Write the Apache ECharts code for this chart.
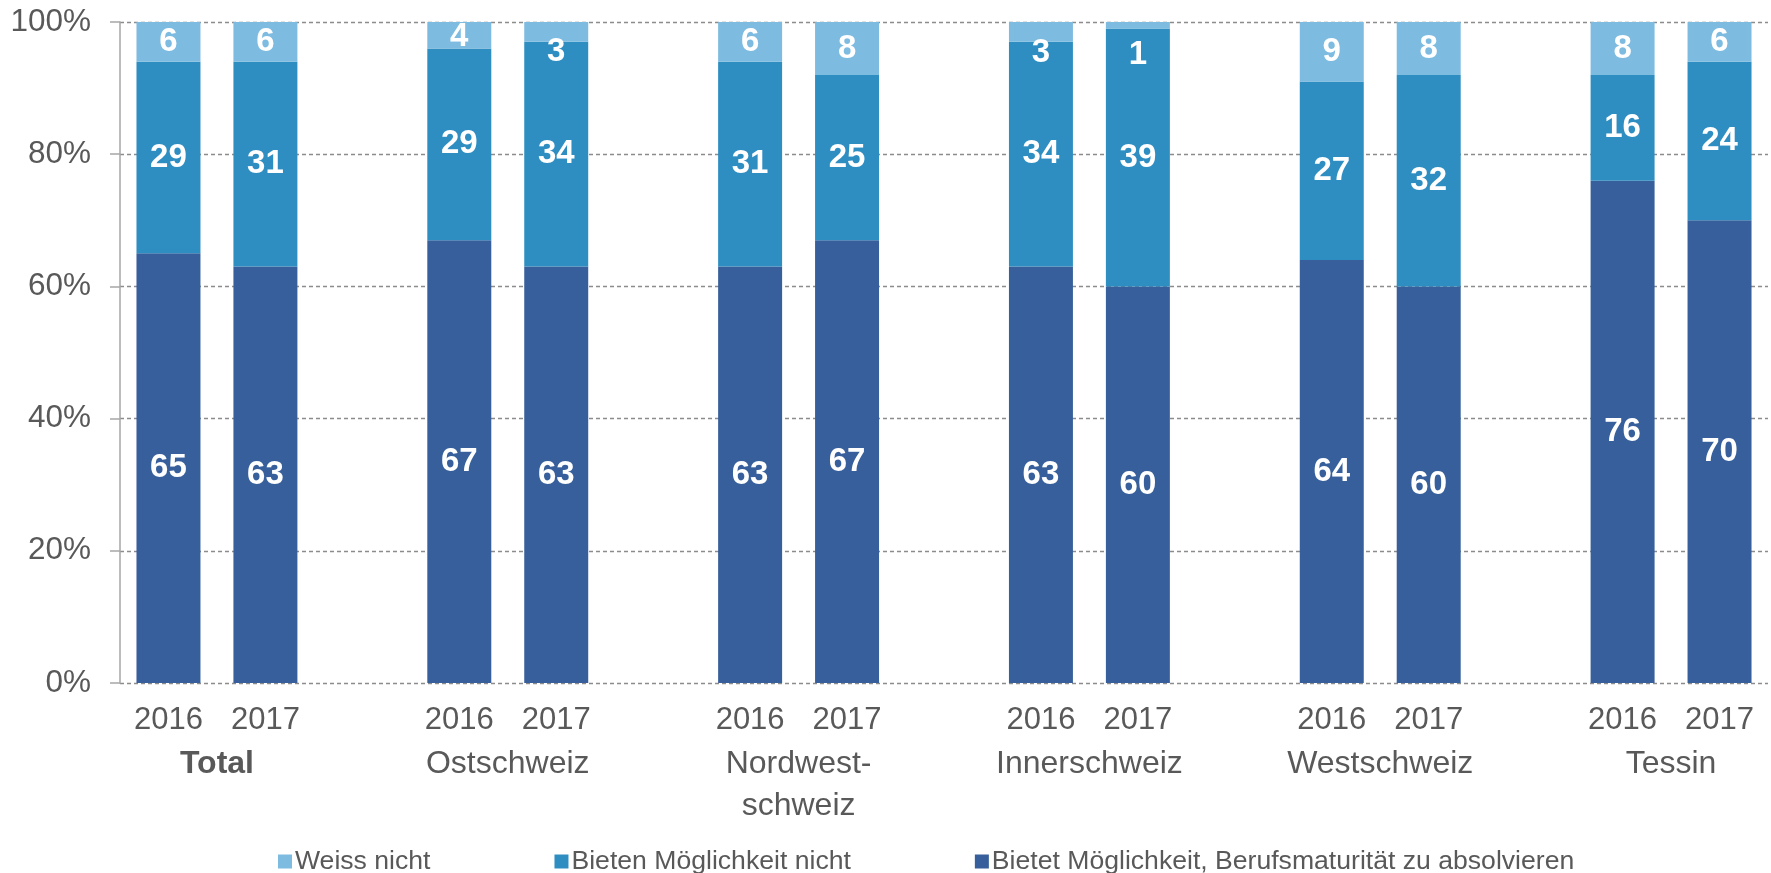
<!DOCTYPE html>
<html>
<head>
<meta charset="utf-8">
<script src="https://cdn.jsdelivr.net/npm/echarts@6/dist/echarts.min.js"></script>
<style>
html,body{margin:0;padding:0;background:#fff;}
#chart{width:1771px;height:873px;}
</style>
</head>
<body>
<div id="chart"></div>
<script>
// ---- Data ----
const groups = ['Total', 'Ostschweiz', 'Nordwest-\nschweiz', 'Innerschweiz', 'Westschweiz', 'Tessin'];
const years = ['2016', '2017'];
const yTicks = [0, 20, 40, 60, 80, 100];
const seriesNames = ['Weiss nicht', 'Bieten Möglichkeit nicht', 'Bietet Möglichkeit, Berufsmaturität zu absolvieren'];
// order per bar: Total 2016, Total 2017, Ost 2016, Ost 2017, ...
const berufsmat = [65, 63, 67, 63, 63, 67, 63, 60, 64, 60, 76, 70];
const nichtBieten = [29, 31, 29, 34, 31, 25, 34, 39, 27, 32, 16, 24];
const weissNicht = [6, 6, 4, 3, 6, 8, 3, 1, 9, 8, 8, 6];

// ---- label nudges for tiny segments (style only) ----
const weissLabelShift = {2: 2, 3: 20, 6: 21, 7: 30};

// ---- build category axis with spacer slots ----
const categories = [];
const barSlot = []; // category index of each bar
groups.forEach((g, gi) => {
  years.forEach((y) => {
    barSlot.push(categories.length);
    categories.push(gi + '|' + y);
  });
  if (gi < groups.length - 1) categories.push('gap' + gi + '|');
});
function spread(values, shift) {
  const arr = categories.map(() => '-');
  values.forEach((v, i) => {
    if (shift && shift[i] !== undefined) {
      arr[barSlot[i]] = {value: v, label: {offset: [0, shift[i]]}};
    } else {
      arr[barSlot[i]] = v;
    }
  });
  return arr;
}
// group label positions on a value axis (centre between the two bars)
const groupCenters = {};
groups.forEach((g, gi) => { groupCenters[barSlot[gi * 2] + 1] = gi; });

const colors = {
  dark: '#365F9B',
  mid: '#2E8EC2',
  light: '#7EBBE0'
};
const font = 'Liberation Sans, Arial, sans-serif';
const textColor = '#595959';

const labelStyle = {
  show: true,
  position: 'inside',
  color: '#ffffff',
  fontWeight: 'bold',
  fontSize: 33,
  fontFamily: font
};

const chart = echarts.init(document.getElementById('chart'), null, {renderer: 'canvas'});
chart.setOption({
  animation: false,
  backgroundColor: '#ffffff',
  textStyle: {fontFamily: font},
  grid: {left: 120, right: 3, top: 22, bottom: 190, containLabel: false},
  legend: {
    data: seriesNames,
    left: 273,
    top: 843,
    itemWidth: 14,
    itemHeight: 14,
    itemGap: 124,
    icon: 'rect',
    textStyle: {color: textColor, fontSize: 26.6, fontFamily: font, padding: [0, 0, 0, -2]}
  },
  xAxis: [
    {
      type: 'category',
      data: categories,
      axisLine: {show: false},
      axisTick: {show: false},
      axisLabel: {
        color: textColor,
        fontSize: 31,
        fontFamily: font,
        margin: 22,
        interval: 0,
        formatter: (v) => v.split('|')[1]
      }
    },
    {
      type: 'value',
      position: 'bottom',
      min: 0,
      max: categories.length,
      interval: 1,
      axisLine: {show: false},
      axisTick: {show: false},
      splitLine: {show: false},
      axisLabel: {
        margin: 60,
        showMinLabel: true,
        showMaxLabel: true,
        formatter: (v) => {
          const gi = groupCenters[v];
          if (gi === undefined) return '';
          return gi === 0 ? '{b|' + groups[gi] + '}' : '{n|' + groups[gi].split('\n').join('}\n{n|') + '}';
        },
        rich: {
          b: {fontSize: 32, fontWeight: 'bold', color: textColor, fontFamily: font, lineHeight: 42},
          n: {fontSize: 32, color: textColor, fontFamily: font, lineHeight: 42}
        }
      }
    }
  ],
  yAxis: {
    type: 'value',
    min: yTicks[0],
    max: yTicks[yTicks.length - 1],
    interval: yTicks[1] - yTicks[0],
    axisLine: {show: true, lineStyle: {color: '#A6A6A6', width: 1.5}},
    axisTick: {show: true, length: 10, lineStyle: {color: '#A6A6A6', width: 1.5}},
    splitLine: {show: true, lineStyle: {color: '#8C8C8C', type: [4, 3], width: 1.3}},
    axisLabel: {
      color: textColor,
      fontSize: 31.5,
      fontFamily: font,
      margin: 29,
      formatter: '{value}%'
    }
  },
  series: [
    {
      name: seriesNames[2],
      type: 'bar',
      stack: 'total',
      xAxisIndex: 0,
      barWidth: '66%',
      itemStyle: {color: colors.dark},
      label: labelStyle,
      data: spread(berufsmat)
    },
    {
      name: seriesNames[1],
      type: 'bar',
      stack: 'total',
      xAxisIndex: 0,
      barWidth: '66%',
      itemStyle: {color: colors.mid},
      label: labelStyle,
      data: spread(nichtBieten)
    },
    {
      name: seriesNames[0],
      type: 'bar',
      stack: 'total',
      xAxisIndex: 0,
      barWidth: '66%',
      itemStyle: {color: colors.light},
      label: labelStyle,
      data: spread(weissNicht, weissLabelShift)
    }
  ]
});
</script>
</body>
</html>
